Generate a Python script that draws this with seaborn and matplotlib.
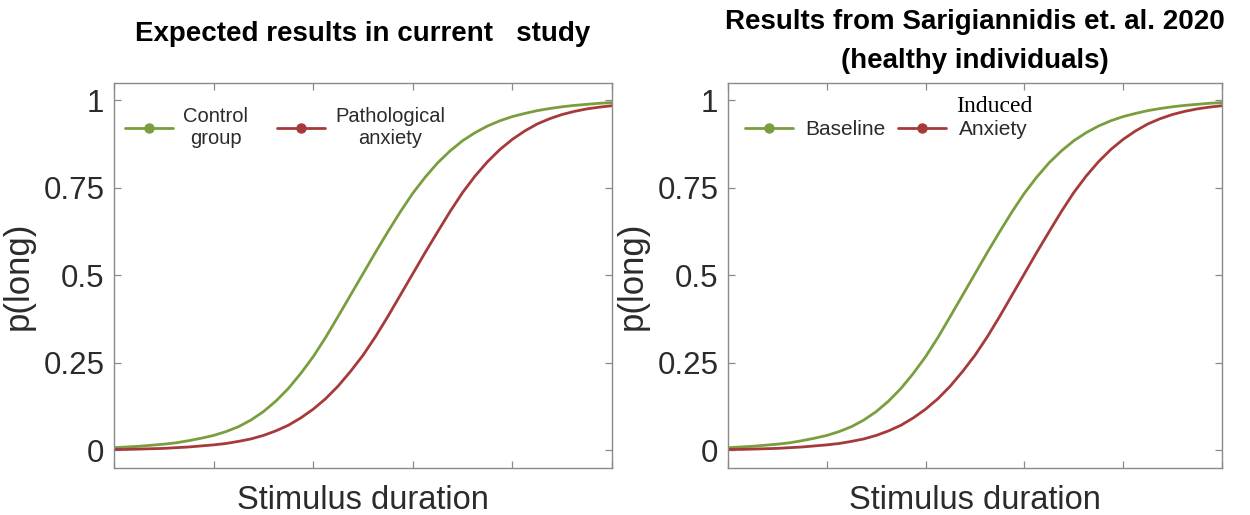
import matplotlib
matplotlib.use("Agg")
import matplotlib.pyplot as plt
from matplotlib.lines import Line2D
import pandas as pd
import seaborn as sns

# Psychometric curves: probability of judging a stimulus "long" vs. duration
duration = [0.0, 0.125, 0.25, 0.375, 0.5, 0.625, 0.75, 0.875, 1.0, 1.125,
            1.25, 1.375, 1.5, 1.625, 1.75, 1.875, 2.0, 2.125, 2.25, 2.375,
            2.5, 2.625, 2.75, 2.875, 3.0, 3.125, 3.25, 3.375, 3.5, 3.625,
            3.75, 3.875, 4.0, 4.125, 4.25, 4.375, 4.5, 4.625, 4.75, 4.875, 5.0]

control_p = [0.008, 0.010, 0.012, 0.015, 0.018, 0.022, 0.028, 0.035, 0.043,
             0.054, 0.068, 0.087, 0.111, 0.141, 0.177, 0.220, 0.268, 0.323,
             0.383, 0.444, 0.505, 0.566, 0.625, 0.682, 0.735, 0.781, 0.822,
             0.856, 0.885, 0.908, 0.927, 0.942, 0.954, 0.963, 0.971, 0.977,
             0.982, 0.986, 0.989, 0.992, 0.994]
pathological_p = [0.003, 0.003, 0.004, 0.005, 0.006, 0.008, 0.010, 0.013,
                  0.016, 0.020, 0.026, 0.033, 0.043, 0.056, 0.072, 0.093,
                  0.118, 0.148, 0.184, 0.226, 0.272, 0.325, 0.383, 0.444,
                  0.505, 0.566, 0.625, 0.683, 0.737, 0.784, 0.825, 0.860,
                  0.889, 0.913, 0.933, 0.948, 0.960, 0.969, 0.976, 0.981,
                  0.985]

baseline_p = [0.008, 0.010, 0.012, 0.015, 0.018, 0.022, 0.028, 0.035, 0.043,
              0.054, 0.068, 0.087, 0.111, 0.141, 0.177, 0.220, 0.268, 0.323,
              0.383, 0.444, 0.505, 0.566, 0.625, 0.682, 0.735, 0.781, 0.822,
              0.856, 0.885, 0.908, 0.927, 0.942, 0.954, 0.963, 0.971, 0.977,
              0.982, 0.986, 0.989, 0.992, 0.994]
induced_p = [0.003, 0.003, 0.004, 0.005, 0.006, 0.008, 0.010, 0.013,
             0.016, 0.020, 0.026, 0.033, 0.043, 0.056, 0.072, 0.093,
             0.118, 0.148, 0.184, 0.226, 0.272, 0.325, 0.383, 0.444,
             0.505, 0.566, 0.625, 0.683, 0.737, 0.784, 0.825, 0.860,
             0.889, 0.913, 0.933, 0.948, 0.960, 0.969, 0.976, 0.981,
             0.985]

x_ticks = [0, 1, 2, 3, 4, 5]
y_ticks = [0, 0.25, 0.5, 0.75, 1]
y_tick_labels = ["0", "0.25", "0.5", "0.75", "1"]

GREEN = "#7a9e3e"
RED = "#a63a3a"
SPINE = "#8a8a8a"
TEXT = "#2b2b2b"

sns.set_theme(style="white")
plt.rcParams["font.family"] = ["Liberation Sans", "DejaVu Sans"]

fig = plt.figure(figsize=(12.5, 5.15), dpi=100)
ax_left = fig.add_axes([0.0912, 0.0913, 0.3984, 0.7476])
ax_right = fig.add_axes([0.5824, 0.0913, 0.3952, 0.7476])


def draw_panel(ax, low_p, high_p, names):
    df = pd.concat([
        pd.DataFrame({"duration": duration, "p": low_p, "group": names[0]}),
        pd.DataFrame({"duration": duration, "p": high_p, "group": names[1]}),
    ])
    sns.lineplot(data=df, x="duration", y="p", hue="group",
                 palette={names[0]: GREEN, names[1]: RED},
                 linewidth=2.0, legend=False, ax=ax)
    ax.set_xlim(0, 5)
    ax.set_ylim(-0.05, 1.05)
    ax.set_xticks(x_ticks)
    ax.set_xticklabels([])
    ax.set_yticks(y_ticks)
    ax.set_yticklabels(y_tick_labels)
    ax.tick_params(axis="both", direction="in", length=5, width=0.9,
                   color=SPINE, top=True, right=True, bottom=True, left=True,
                   labelsize=22.5, labelcolor=TEXT, pad=7)
    for sp in ax.spines.values():
        sp.set_visible(True)
        sp.set_color(SPINE)
        sp.set_linewidth(1.0)
    ax.set_xlabel("Stimulus duration", fontsize=23.5, color=TEXT, labelpad=5)
    ax.set_ylabel("p(long)", fontsize=25, color=TEXT, labelpad=6)


draw_panel(ax_left, control_p, pathological_p, ["Control\ngroup", "Pathological\nanxiety"])
draw_panel(ax_right, baseline_p, induced_p, ["Baseline", "Anxiety"])


def add_legend(ax, labels, anchor, fontsize, handlelength, textpad, spacing):
    handles = [
        Line2D([], [], color=GREEN, lw=2.0, marker="o", markersize=6.5),
        Line2D([], [], color=RED, lw=2.0, marker="o", markersize=6.5),
    ]
    leg = ax.legend(handles, labels, loc="upper left", bbox_to_anchor=anchor,
                    ncol=2, frameon=False, fontsize=fontsize,
                    handlelength=handlelength, handletextpad=textpad,
                    columnspacing=spacing, borderaxespad=0)
    for t in leg.get_texts():
        t.set_color(TEXT)
        t.set_multialignment("center")
    return leg


add_legend(ax_left, ["Control\ngroup", "Pathological\nanxiety"], (0.006, 0.958),
           14.5, 2.4, 0.5, 1.4)
add_legend(ax_right, ["Baseline", "Anxiety"], (0.018, 0.925),
           15, 2.3, 0.6, 0.6)
ax_right.text(0.540, 0.940, "Induced", transform=ax_right.transAxes,
              ha="center", va="center", fontsize=17, color="black",
              family=["Liberation Serif", "DejaVu Serif"])

ax_left.set_title("Expected results in current   study", fontsize=20,
                  fontweight="bold", color="black", pad=30)
ax_right.set_title("Results from Sarigiannidis et. al. 2020\n(healthy individuals)",
                   fontsize=20, fontweight="bold", color="black", pad=11,
                   linespacing=1.65)

fig.savefig("out.png", dpi=100, facecolor="white")
